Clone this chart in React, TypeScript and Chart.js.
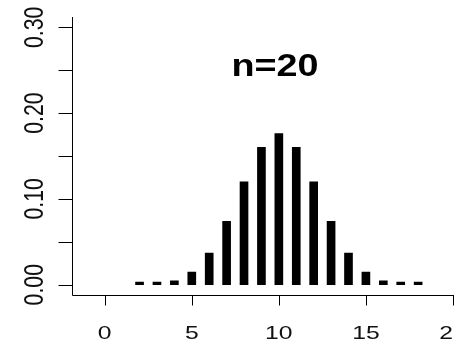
import React, { useEffect, useRef } from "react";
import { Chart, registerables } from "chart.js";

Chart.register(...registerables);

// ---- data ----
const outcomes = [2, 3, 4, 5, 6, 7, 8, 9, 10, 11, 12, 13, 14, 15, 16, 17, 18];
const probabilities = [
  0.0002, 0.0011, 0.0046, 0.0148, 0.037, 0.074, 0.12, 0.16, 0.176, 0.16, 0.12,
  0.074, 0.037, 0.0148, 0.0046, 0.0011, 0.0002,
];
const yTickValues = [0, 0.05, 0.1, 0.15, 0.2, 0.25, 0.3];
const yLabelValues = [0, 0.1, 0.2, 0.3];
const yLabels = ["0.00", "0.10", "0.20", "0.30"];
const xTickValues = [0, 5, 10, 15, 20];
const xLabels = ["0", "5", "10", "15", "20"];
const titleText = "n=20";

const FONT = "'Liberation Sans', Arial, sans-serif";

const rAxesPlugin = {
  id: "rAxes",
  afterDraw(chart: any) {
    const { ctx, chartArea, scales } = chart;
    const xs = scales.x;
    const ys = scales.y;
    ctx.save();
    ctx.strokeStyle = "#000";
    ctx.lineWidth = 1;
    const left = Math.round(chartArea.left) + 0.5;
    const bottom = Math.round(chartArea.bottom) + 0.5;
    ctx.beginPath();
    ctx.moveTo(left, Math.round(chartArea.top));
    ctx.lineTo(left, bottom);
    ctx.lineTo(chart.width, bottom);
    yTickValues.forEach((v) => {
      const py = Math.round(ys.getPixelForValue(v)) + 0.5;
      ctx.moveTo(left - 14, py);
      ctx.lineTo(left, py);
    });
    xTickValues.forEach((v) => {
      const px = Math.round(xs.getPixelForValue(v)) + 0.5;
      ctx.moveTo(px, bottom);
      ctx.lineTo(px, bottom + 10);
    });
    ctx.stroke();

    ctx.fillStyle = "#111";
    ctx.textAlign = "center";
    ctx.textBaseline = "alphabetic";

    // x labels
    ctx.font = `19px ${FONT}`;
    xTickValues.forEach((v, i) => {
      const px = xs.getPixelForValue(v);
      ctx.save();
      ctx.translate(px, 339);
      ctx.scale(1.3, 1);
      ctx.fillText(xLabels[i], 0, 0);
      ctx.restore();
    });

    // y labels (rotated)
    yLabelValues.forEach((v, i) => {
      const py = ys.getPixelForValue(v);
      ctx.save();
      ctx.translate(42.5, py);
      ctx.scale(1.45, 1.12);
      ctx.rotate(-Math.PI / 2);
      ctx.fillText(yLabels[i], 0, 0);
      ctx.restore();
    });

    // title
    ctx.fillStyle = "#000";
    ctx.font = `bold 32px ${FONT}`;
    ctx.save();
    ctx.translate(275, 76);
    ctx.scale(1.18, 1);
    ctx.fillText(titleText, 0, 0);
    ctx.restore();

    ctx.restore();
  },
};

export default function App() {
  const canvasRef = useRef<HTMLCanvasElement | null>(null);

  useEffect(() => {
    const canvas = canvasRef.current;
    if (!canvas) return;
    const chart = new Chart(canvas, {
      type: "bar",
      data: {
        datasets: [
          {
            data: outcomes.map((o, i) => ({ x: o, y: probabilities[i] })),
            backgroundColor: "#000",
            borderWidth: 0,
            barThickness: 8,
            minBarLength: 2.5,
          },
        ],
      },
      options: {
        animation: false,
        responsive: false,
        devicePixelRatio: 1,
        layout: { padding: { left: 72, top: 17, right: 14.3, bottom: 49 } },
        plugins: {
          legend: { display: false },
          tooltip: { enabled: false },
          title: { display: false },
        },
        scales: {
          x: { type: "linear", min: -1.88, max: 21.88, offset: false, display: false },
          y: { type: "linear", min: -0.012, max: 0.312, display: false },
        },
      },
      plugins: [rAxesPlugin],
    } as any);
    return () => chart.destroy();
  }, []);

  return (
    <div
      style={{
        position: "fixed",
        left: 0,
        top: 0,
        width: 454,
        height: 344,
        overflow: "hidden",
        background: "#fff",
      }}
    >
      <canvas ref={canvasRef} width={500} height={344} style={{ display: "block" }} />
    </div>
  );
}
